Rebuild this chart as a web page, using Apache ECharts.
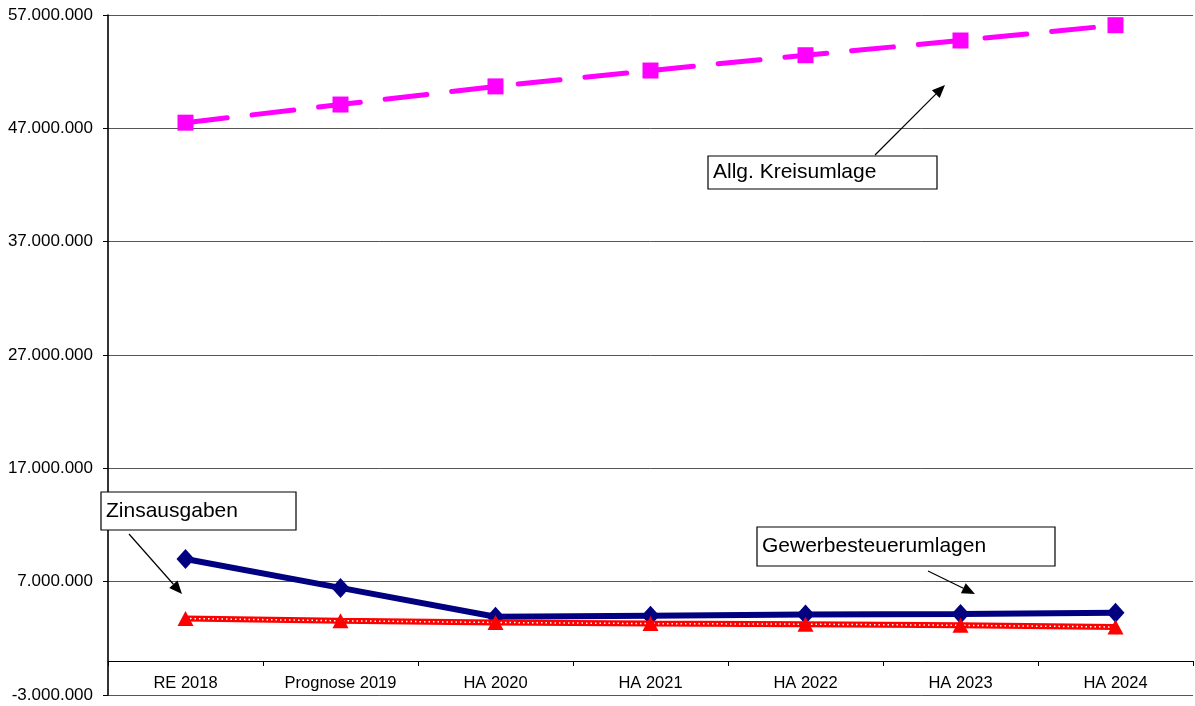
<!DOCTYPE html>
<html>
<head>
<meta charset="utf-8">
<script src="https://cdn.jsdelivr.net/npm/echarts@6/dist/echarts.min.js"></script>
<style>
  html, body { margin: 0; padding: 0; background: #fff; }
  #chart { width: 1195px; height: 706px; }
</style>
</head>
<body>
<div id="chart"></div>
<script>
// Categories (budget years)
const categories = ['RE 2018', 'Prognose 2019', 'HA 2020', 'HA 2021', 'HA 2022', 'HA 2023', 'HA 2024'];

// Series values in EUR
const kreisumlage = [47500000, 49100000, 50700000, 52100000, 53450000, 54750000, 56100000];
const gewerbesteuerumlagen = [9000000, 6450000, 3900000, 4000000, 4100000, 4150000, 4250000];
const zinsausgaben = [3750000, 3550000, 3400000, 3300000, 3250000, 3150000, 3000000];

// Value axis range and step
const yMin = -3000000;
const yMax = 57000000;
const yStep = 10000000;

// Callout texts
const calloutTexts = ['Allg. Kreisumlage', 'Zinsausgaben', 'Gewerbesteuerumlagen'];

const FONT = '"Liberation Sans", Arial, sans-serif';

function formatDe(v) {
  const s = Math.abs(Math.round(v)).toString().replace(/\B(?=(\d{3})+(?!\d))/g, '.');
  return (v < 0 ? '-' : '') + s;
}

// Callout layout: box [x, y, w, h] and arrow [x1, y1, x2, y2]
const calloutLayout = [
  { box: [708, 156, 229, 33], arrow: [875, 155, 945, 85] },
  { box: [101, 492, 195, 38], arrow: [129, 534, 182, 594] },
  { box: [757, 527, 298, 39], arrow: [928, 571, 975, 594] }
];

function arrowGraphics(x1, y1, x2, y2) {
  const ang = Math.atan2(y2 - y1, x2 - x1);
  const len = 13, half = 5.5;
  const bx = x2 - len * Math.cos(ang), by = y2 - len * Math.sin(ang);
  const px = -Math.sin(ang) * half, py = Math.cos(ang) * half;
  return [
    { type: 'line', shape: { x1: x1, y1: y1, x2: bx, y2: by },
      style: { stroke: '#000', lineWidth: 1.2 }, z: 100 },
    { type: 'polygon', shape: { points: [[x2, y2], [bx + px, by + py], [bx - px, by - py]] },
      style: { fill: '#000' }, z: 100 }
  ];
}

const graphics = [];
calloutTexts.forEach((t, i) => {
  const L = calloutLayout[i];
  graphics.push({
    type: 'rect',
    shape: { x: L.box[0], y: L.box[1], width: L.box[2], height: L.box[3] },
    style: { fill: '#fff', stroke: '#000', lineWidth: 1.2 },
    z: 100
  });
  graphics.push({
    type: 'text',
    x: L.box[0] + 5, y: L.box[1] + L.box[3] / 2,
    style: { text: t, fill: '#000', font: '21px ' + FONT, verticalAlign: 'middle', align: 'left' },
    z: 101
  });
  graphics.push(...arrowGraphics(...L.arrow));
});

const chart = echarts.init(document.getElementById('chart'), null, { renderer: 'canvas' });
chart.setOption({
  animation: false,
  backgroundColor: '#fff',
  grid: { left: 108, right: 2, top: 15, bottom: 11, containLabel: false, outerBoundsMode: 'none' },
  xAxis: [
    {
      // zero line with category boundary ticks
      type: 'category',
      data: categories,
      boundaryGap: true,
      axisLine: { onZero: true, lineStyle: { color: '#000', width: 1 } },
      axisTick: { show: true, length: 5, inside: false, lineStyle: { color: '#000' } },
      axisLabel: { show: false }
    },
    {
      // category labels, placed just below the zero line
      type: 'category',
      data: categories,
      boundaryGap: true,
      position: 'bottom',
      offset: -20,
      axisLine: { show: false, onZero: false },
      axisTick: { show: false },
      axisLabel: { color: '#000', fontFamily: FONT, fontSize: 16.5, margin: 0 }
    }
  ],
  yAxis: {
    type: 'value',
    min: yMin, max: yMax, interval: yStep,
    axisLine: { show: true, lineStyle: { color: '#000', width: 1.6 } },
    axisTick: { show: true, length: 5, inside: false, lineStyle: { color: '#000' } },
    axisLabel: { color: '#000', fontFamily: FONT, fontSize: 17, margin: 15, formatter: formatDe },
    splitLine: { show: true, lineStyle: { color: '#555', width: 1 } }
  },
  series: [
    {
      name: 'Allg. Kreisumlage',
      type: 'line',
      data: kreisumlage,
      symbol: 'rect', symbolSize: 16,
      itemStyle: { color: '#FF00FF' },
      lineStyle: { color: '#FF00FF', width: 5, type: [42, 25], cap: 'round' },
      z: 3
    },
    {
      name: 'Gewerbesteuerumlagen',
      type: 'line',
      data: gewerbesteuerumlagen,
      symbol: 'diamond', symbolSize: [18, 20],
      itemStyle: { color: '#000080' },
      lineStyle: { color: '#000080', width: 6 },
      z: 3
    },
    {
      name: 'Zinsausgaben',
      type: 'line',
      data: zinsausgaben,
      showSymbol: false, symbol: 'none',
      lineStyle: { color: '#FF0000', width: 6 },
      z: 4
    },
    {
      name: 'Zinsausgaben (Muster)',
      type: 'line',
      data: zinsausgaben,
      showSymbol: false, symbol: 'none',
      lineStyle: { color: '#fff', width: 1.5, type: [1.5, 3] },
      z: 5
    },
    {
      name: 'Zinsausgaben (Marker)',
      type: 'line',
      data: zinsausgaben,
      symbol: 'triangle', symbolSize: [16, 15],
      itemStyle: { color: '#FF0000' },
      lineStyle: { width: 0, opacity: 0 },
      z: 6
    }
  ],
  graphic: graphics
});
</script>
</body>
</html>
